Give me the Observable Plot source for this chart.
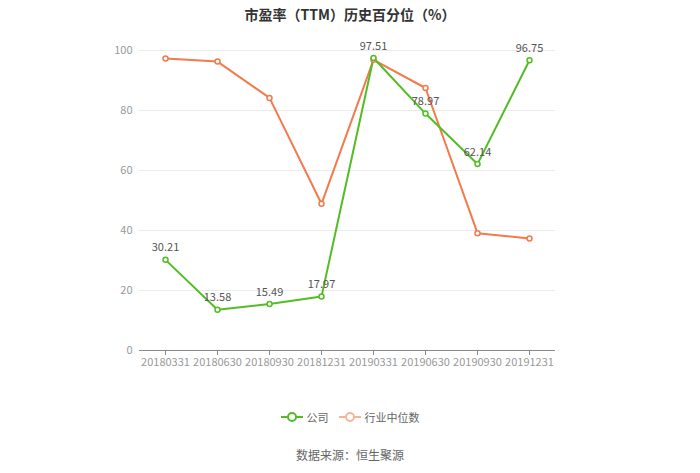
<!DOCTYPE html>
<html>
<head>
<meta charset="utf-8">
<script src="https://cdn.jsdelivr.net/npm/d3@7"></script>
<script src="https://cdn.jsdelivr.net/npm/@observablehq/plot@0.6"></script>
<style>
  html, body { margin: 0; padding: 0; background: #fff; }
  body { width: 700px; height: 473px; position: relative; overflow: hidden;
         font-family: "Noto Sans CJK SC", "Noto Sans", sans-serif; }
  #title { position: absolute; top: 3px; left: 0; width: 700px; text-align: center;
           font-size: 14px; font-weight: bold; color: #333; line-height: 22px; }
  #chart { position: absolute; top: 30px; left: 0; }
  #legend { position: absolute; top: 409px; left: 0; width: 700px; display: flex;
            justify-content: center; align-items: center; font-size: 11px; color: #666; }
  #legend .item { display: flex; align-items: center; margin: 0 5px; }
  #legend svg { margin-right: 4px; }
  #source { position: absolute; top: 445px; left: 0; width: 700px; text-align: center;
            font-size: 12px; color: #666; line-height: 20px; }
</style>
</head>
<body>
<div id="title">市盈率（TTM）历史百分位（%）</div>
<div id="chart"></div>
<div id="legend"></div>
<div id="source">数据来源：恒生聚源</div>
<script>
const categories = ["20180331","20180630","20180930","20181231","20190331","20190630","20190930","20191231"];
const companyValues = [30.21, 13.58, 15.49, 17.97, 97.51, 78.97, 62.14, 96.75];
const industryValues = [97.3, 96.3, 84.2, 48.9, 96.9, 87.5, 39.1, 37.3];
const yTicks = [0, 20, 40, 60, 80, 100];
const seriesNames = ["公司", "行业中位数"];
const colors = ["#52bd24", "#f27a4c"];
const legendColors = ["#52bd24", "#f6b49a"];

const company = categories.map((c, i) => ({date: c, value: companyValues[i]}));
const industry = categories.map((c, i) => ({date: c, value: industryValues[i]}));

const chart = Plot.plot({
  width: 700,
  height: 350,
  marginLeft: 139,
  marginRight: 145,
  marginTop: 20,
  marginBottom: 30,
  style: {fontFamily: '"Noto Sans CJK SC", "Noto Sans", sans-serif', fontSize: "11px", background: "transparent"},
  x: {type: "point", domain: categories, padding: 0.5, label: null},
  y: {domain: [0, 100], label: null},
  marks: [
    Plot.ruleY(yTicks.filter(d => d > 0), {stroke: "#ebebeb", strokeWidth: 1}),
    Plot.axisY({ticks: yTicks, tickSize: 0, tickPadding: 7, fill: "#999", fontSize: 11, label: null}),
    Plot.axisX({tickSize: 5, tickPadding: 3, stroke: "#888", fill: "#999", fontSize: 11, label: null}),
    Plot.ruleY([0], {stroke: "#888", strokeWidth: 1}),
    Plot.line(industry, {x: "date", y: "value", stroke: colors[1], strokeWidth: 2}),
    Plot.line(company, {x: "date", y: "value", stroke: colors[0], strokeWidth: 2}),
    Plot.dot(industry, {x: "date", y: "value", r: 2.5, stroke: colors[1], fill: "#fff", strokeWidth: 1.5}),
    Plot.dot(company, {x: "date", y: "value", r: 2.5, stroke: colors[0], fill: "#fff", strokeWidth: 1.5}),
    Plot.text(company, {x: "date", y: "value", text: d => d.value.toFixed(2), dy: -12, fill: "#555", fontSize: 11})
  ]
});
document.getElementById("chart").appendChild(chart);

const legend = document.getElementById("legend");
seriesNames.forEach((name, i) => {
  const item = document.createElement("div");
  item.className = "item";
  item.innerHTML = `<svg width="22" height="12"><line x1="0" y1="6" x2="22" y2="6" stroke="${legendColors[i]}" stroke-width="2"/><circle cx="11" cy="6" r="4" fill="#fff" stroke="${legendColors[i]}" stroke-width="2"/></svg><span>${name}</span>`;
  legend.appendChild(item);
});
</script>
</body>
</html>
